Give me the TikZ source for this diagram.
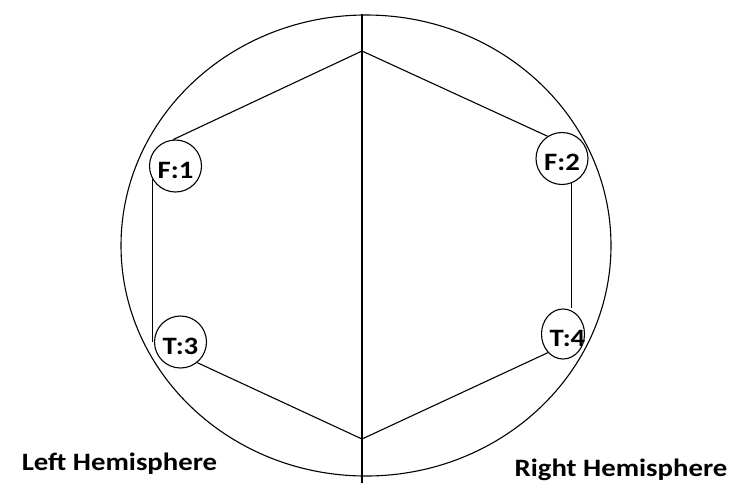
\documentclass[tikz,border=0pt]{standalone}
\usepackage{fontspec}
\newfontfamily\lblfont[FakeStretch=1.15]{Carlito}
\usetikzlibrary{shapes.geometric}
\newcommand{\elab}[1]{\makebox[0pt]{#1}}
\begin{document}
\begin{tikzpicture}[x=1pt, y=-1pt,
  headnode/.style={draw, ellipse, line width=1.1pt, minimum width=490pt, minimum height=461pt, inner sep=0pt},
  elecnode/.style={draw, circle, line width=1.1pt, minimum size=52pt, inner sep=0pt,
                   font=\lblfont\bfseries\fontsize{25}{25}\selectfont, text height=24pt, text depth=0pt},
  hemnode/.style={font=\lblfont\bfseries\fontsize{25}{25}\selectfont, anchor=base, inner sep=0pt},
  link/.style={line width=1.1pt},
]
  \useasboundingbox (0,0) rectangle (735,483);

  % Head
  \node[headnode] (head) at (366,245.5) {};
  \coordinate (ntop) at (362,14);
  \coordinate (nbot) at (362,483);
  \draw[line width=1.7pt] (ntop) -- (nbot);

  % Electrodes
  \node[elecnode] (F1) at (175.5,166) {\elab{F:1}};
  \node[elecnode] (F2) at (562,158.5) {\elab{F:2}};
  \node[elecnode] (T3) at (180.5,342) {\elab{T:3}};
  \node[elecnode, ellipse, minimum width=43pt, minimum height=50pt] (T4) at (563,334) {\elab{\hspace{9pt}T:4}};

  % Links
  \coordinate (top) at (362,51);
  \coordinate (bot) at (362,439);
  \draw[link] (top) -- (F1.95);
  \draw[link] (top) -- (F2.123);
  \draw[link] (F1.209) -- (F1.209 |- T3.west);
  \draw[link] (F2.290) -- (F2.290 |- T4.north);
  \draw[link] (T3.-51) -- (bot);
  \draw[link] (T4.-129) -- (bot);

  % Hemispheres
  \node[hemnode] (left) at (119.5,470) {Left Hemisphere};
  \node[hemnode] (right) at (621,476.5) {Right Hemisphere};
\end{tikzpicture}
\end{document}
